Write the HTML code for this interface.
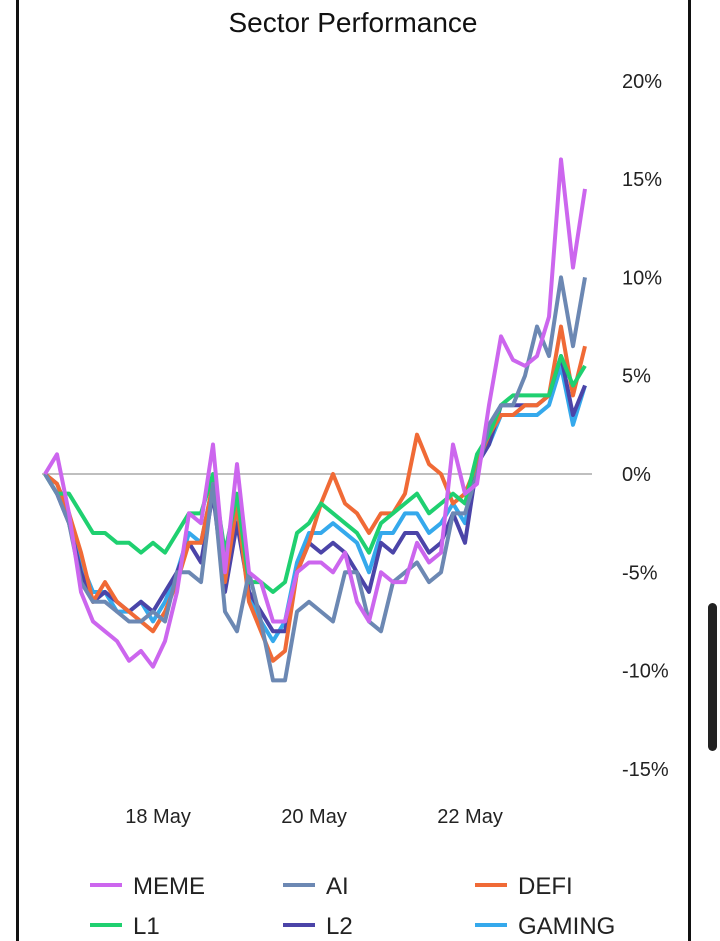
<!DOCTYPE html>
<html><head><meta charset="utf-8"><style>
html,body{margin:0;padding:0;background:#fff;width:720px;height:941px;overflow:hidden;font-family:"Liberation Sans",sans-serif;}
</style></head><body>
<svg id="chart" width="720" height="941" xmlns="http://www.w3.org/2000/svg">
<rect x="16" y="0" width="3" height="941" fill="#111"/>
<rect x="688" y="0" width="3" height="941" fill="#111"/>
<rect x="708" y="603" width="9" height="148" rx="4.5" fill="#222"/>
<text x="353" y="32" text-anchor="middle" font-size="28" fill="#111">Sector Performance</text>
<g id="yticks"></g>
<g id="xticks"></g>
<line x1="42" x2="592" y1="474" y2="474" stroke="#999" stroke-width="1.3"/>
<g id="series"></g>
<g id="legend"></g>
</svg>
<script>
const yTicks=[20,15,10,5,0,-5,-10,-15];
const xTickLabels=["18 May","20 May","22 May"];
const xTickIdx=[9.42,22.42,35.42];
const seriesNames=["GAMING","L2","DEFI","L1","AI","MEME"];
const colors={MEME:"#cc66ee",AI:"#6c88b3",DEFI:"#f06a36",L1:"#1fd070",L2:"#4b44a8",GAMING:"#35a9ec"};
const MEME=[0,1,-2,-6,-7.5,-8,-8.5,-9.5,-9,-9.8,-8.5,-6,-2,-2.5,1.5,-5,0.5,-5,-5.5,-7.5,-7.5,-5,-4.5,-4.5,-5,-4,-6.5,-7.5,-5,-5.5,-5.5,-3.5,-4.5,-4,1.5,-1,-0.5,3.5,7,5.8,5.5,6,8,16,10.5,14.5];
const AI=[0,-1,-2.5,-5.5,-6.5,-6.5,-7,-7.5,-7.5,-7,-7.5,-5,-5,-5.5,-0.5,-7,-8,-5,-7.5,-10.5,-10.5,-7,-6.5,-7,-7.5,-5,-5,-7.5,-8,-5.5,-5,-4.5,-5.5,-5,-2,-2,0,2.5,3.5,3.5,5,7.5,6,10,6.5,10];
const DEFI=[0,-0.5,-2,-4,-6.5,-5.5,-6.5,-7,-7.5,-8,-7,-5.5,-3.5,-3.5,-0.5,-5.5,-1.5,-6.5,-8,-9.5,-9,-5,-3.5,-1.5,0,-1.5,-2,-3,-2,-2,-1,2,0.5,0,-1.5,-1,0.5,2,3,3,3.5,3.5,4,7.5,4,6.5];
const L1=[0,-1,-1,-2,-3,-3,-3.5,-3.5,-4,-3.5,-4,-3,-2,-2,0,-4,-1,-5.5,-5.5,-6,-5.5,-3,-2.5,-1.5,-2,-2.5,-3,-4,-2.5,-2,-1.5,-1,-2,-1.5,-1,-1.5,1,2,3.5,4,4,4,4,6,4.5,5.5];
const L2=[0,-1,-2.5,-5,-6.5,-6,-6.5,-7,-6.5,-7,-6,-5,-3.5,-4.5,-1,-6,-2.5,-6,-7,-8,-8,-5,-3.5,-4,-3.5,-4,-5,-6,-3.5,-4,-3,-3,-4,-3.5,-2,-3.5,0.5,1.5,3.5,3.5,3.5,3.5,4,6,3,4.5];
const GAMING=[0,-0.5,-2,-4.5,-6,-6,-7,-7,-6.5,-7.5,-6.5,-5,-3,-3.5,-0.5,-5,-2,-6,-7.5,-8.5,-7.5,-4.5,-3,-3,-2.5,-3,-3.5,-5,-3,-3,-2,-2,-3,-2.5,-1.5,-2.5,0.5,1.5,3,3,3,3,3.5,5.5,2.5,4.5];
const data={MEME,AI,DEFI,L1,L2,GAMING};
const legendOrder=["MEME","AI","DEFI","L1","L2","GAMING"];
const NS="http://www.w3.org/2000/svg";
function xs(i){return 45+i*12;}
function ys(v){return 474-v*19.66;}
const yt=document.getElementById('yticks');
yTicks.forEach(t=>{const e=document.createElementNS(NS,'text');e.setAttribute('x',622);e.setAttribute('y',ys(t)+7);e.setAttribute('font-size','20');e.setAttribute('fill','#222');e.textContent=t+'%';


yt.appendChild(e);});
const xt=document.getElementById('xticks');
xTickLabels.forEach((l,k)=>{const e=document.createElementNS(NS,'text');e.setAttribute('x',xs(xTickIdx[k]));e.setAttribute('y',823);e.setAttribute('text-anchor','middle');e.setAttribute('font-size','20');e.setAttribute('fill','#222');e.textContent=l;


xt.appendChild(e);});
const sg=document.getElementById('series');
seriesNames.forEach(n=>{const p=document.createElementNS(NS,'polyline');p.setAttribute('points',data[n].map((v,i)=>xs(i)+','+ys(v)).join(' '));p.setAttribute('fill','none');p.setAttribute('stroke',colors[n]);p.setAttribute('stroke-width','4');p.setAttribute('stroke-linejoin','round');


sg.appendChild(p);});
const lg=document.getElementById('legend');
const lx=[90,283,475],ly=[885,925];
legendOrder.forEach((n,k)=>{const x=lx[k%3],y=ly[Math.floor(k/3)];const g=document.createElementNS(NS,'g');


const l=document.createElementNS(NS,'line');l.setAttribute('x1',x);l.setAttribute('x2',x+32);l.setAttribute('y1',y);l.setAttribute('y2',y);l.setAttribute('stroke',colors[n]);l.setAttribute('stroke-width','4');g.appendChild(l);
const t=document.createElementNS(NS,'text');t.setAttribute('x',x+43);t.setAttribute('y',y+9);t.setAttribute('font-size','24');t.setAttribute('fill','#222');t.textContent=n;g.appendChild(t);lg.appendChild(g);});
</script>
</body></html>
